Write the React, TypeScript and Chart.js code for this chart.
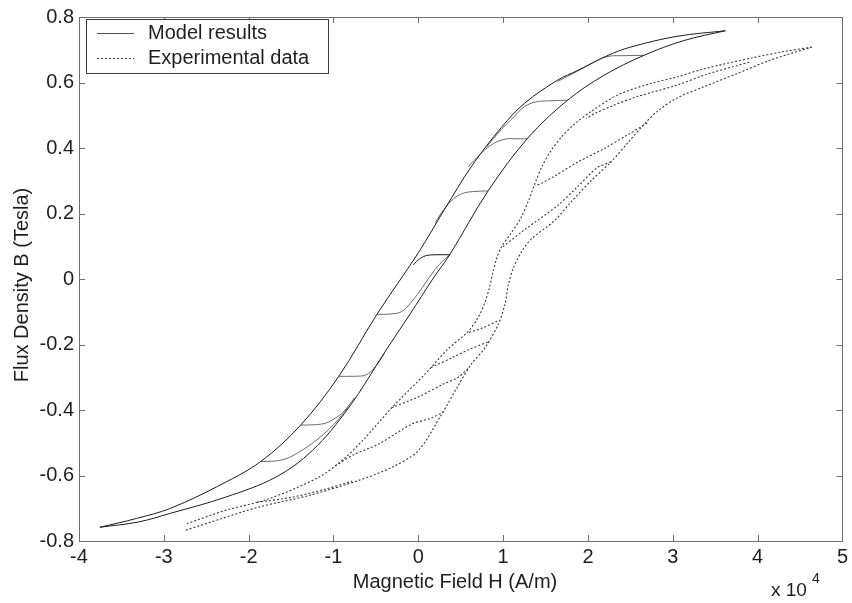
import React, { useEffect, useRef } from 'react';
import { Chart, registerables } from 'chart.js';

Chart.register(...registerables);

const FONT = '"Liberation Sans", Arial, Helvetica, sans-serif';

// Axis ticks (H in units of 1e4 A/m, B in Tesla)
const xTicks = [-4, -3, -2, -1, 0, 1, 2, 3, 4, 5];
const yTicks = [-0.8, -0.6, -0.4, -0.2, 0, 0.2, 0.4, 0.6, 0.8];

// ---- Model results (solid) ----
const modelUpper = [[3.62,0.758],[3.05,0.741],[2.5,0.708],[2.22,0.681],[1.88,0.637],[1.64,0.607],[1.25,0.536],[0.98,0.463],[0.63,0.345],[0.31,0.213],[0.0,0.08],[-0.488,-0.108],[-0.937,-0.297],[-1.387,-0.446],[-1.856,-0.557],[-2.38,-0.635],[-2.93,-0.701],[-3.32,-0.731],[-3.754,-0.758]];
const modelLower = [[-3.754,-0.758],[-3.3,-0.742],[-2.93,-0.716],[-2.27,-0.666],[-1.68,-0.605],[-1.25,-0.524],[-0.82,-0.393],[-0.39,-0.221],[-0.1,-0.108],[0.17,0.0],[0.37,0.074],[0.823,0.269],[1.29,0.43],[1.76,0.546],[2.19,0.622],[2.66,0.683],[3.13,0.728],[3.62,0.758]];
const modelD1 = [[2.66,0.683],[2.45,0.682],[2.22,0.679],[2.05,0.659],[1.88,0.635],[1.64,0.603]];
const modelA1 = [[-1.856,-0.557],[-1.7,-0.556],[-1.56,-0.549],[-1.41,-0.529],[-1.21,-0.494],[-1.0,-0.445],[-0.82,-0.39]];
const modelD2 = [[1.76,0.546],[1.55,0.544],[1.39,0.541],[1.25,0.526],[1.1,0.488],[0.98,0.457],[0.8,0.402]];
const modelA2 = [[-1.387,-0.446],[-1.22,-0.445],[-1.09,-0.44],[-0.98,-0.425],[-0.88,-0.405],[-0.75,-0.362]];
const modelD3 = [[1.29,0.428],[1.15,0.428],[1.02,0.427],[0.862,0.41],[0.705,0.375],[0.588,0.342]];
const modelA3 = [[-0.937,-0.297],[-0.75,-0.297],[-0.62,-0.293],[-0.52,-0.272],[-0.4,-0.228]];
const modelD4 = [[0.823,0.269],[0.65,0.267],[0.53,0.262],[0.42,0.246],[0.3,0.212],[0.2,0.172]];
const modelA4 = [[-0.488,-0.108],[-0.33,-0.107],[-0.2,-0.1],[-0.08,-0.07],[0.05,-0.025],[0.2,0.03],[0.3,0.058],[0.37,0.074]];
const modelD5 = [[0.37,0.074],[0.2,0.074],[0.1,0.072],[0.03,0.064],[-0.02,0.054],[-0.057,0.043]];

// ---- Experimental data (dotted) ----
const expUpper = [[4.637,0.708],[4.3,0.694],[3.95,0.676],[3.37,0.642],[3.05,0.617],[2.74,0.597],[2.35,0.562],[2.035,0.511],[1.84,0.473],[1.683,0.432],[1.56,0.39],[1.46,0.345],[1.38,0.295],[1.3,0.24],[1.2,0.182],[1.08,0.135],[0.98,0.098],[0.92,0.06],[0.875,0.015],[0.84,-0.025],[0.79,-0.068],[0.71,-0.115],[0.588,-0.16],[0.353,-0.213],[0.08,-0.29],[-0.312,-0.393],[-0.624,-0.484],[-0.859,-0.545],[-1.172,-0.605],[-1.759,-0.671],[-2.267,-0.706],[-2.74,-0.748]];
const expLower = [[-2.74,-0.767],[-2.3,-0.73],[-1.876,-0.696],[-1.29,-0.661],[-0.703,-0.615],[-0.312,-0.575],[0.0,-0.524],[0.275,-0.413],[0.46,-0.33],[0.62,-0.262],[0.784,-0.211],[0.94,-0.14],[1.019,-0.08],[1.06,-0.02],[1.116,0.031],[1.214,0.082],[1.331,0.122],[1.605,0.178],[1.8,0.235],[2.035,0.3],[2.27,0.357],[2.466,0.415],[2.661,0.472],[2.818,0.512],[3.052,0.553],[3.366,0.587],[3.756,0.627],[4.147,0.668],[4.637,0.708]];
const expD1 = [[3.9,0.662],[3.4,0.625],[3.05,0.592],[2.58,0.557],[2.3,0.53],[2.1,0.508],[1.98,0.49]];
const expD2 = [[2.7,0.476],[2.466,0.44],[2.19,0.398],[1.88,0.357],[1.605,0.314],[1.45,0.292],[1.38,0.285]];
const expD3 = [[2.27,0.357],[2.11,0.34],[1.87,0.28],[1.64,0.224],[1.25,0.15],[0.98,0.095]];
const expA0 = [[-1.9,-0.682],[-1.485,-0.666],[-1.1,-0.642],[-0.78,-0.617]];
const expA1 = [[-0.98,-0.57],[-0.75,-0.535],[-0.468,-0.504],[-0.077,-0.443],[0.15,-0.425],[0.3,-0.405]];
const expA2 = [[-0.312,-0.393],[0.0,-0.36],[0.3,-0.32],[0.47,-0.3],[0.6,-0.27]];
const expA3 = [[0.15,-0.27],[0.4,-0.24],[0.6,-0.215],[0.84,-0.19]];
const expA4 = [[0.6,-0.163],[0.75,-0.15],[0.94,-0.128]];

const toPts = (a: number[][]) => a.map(([x, y]) => ({ x, y }));

const MODEL_MAJOR = '#1c1c1c';
const MODEL_MINOR = '#6a6a6a';
const EXP_COLOR = '#3a3a3a';

const modelLine = (data: number[][], color: string) => ({
  data: toPts(data),
  borderColor: color,
  borderWidth: 1,
  pointRadius: 0,
  showLine: true,
  tension: 0.35,
  fill: false,
});
const expLine = (data: number[][]) => ({
  data: toPts(data),
  borderColor: EXP_COLOR,
  borderWidth: 1.1,
  borderDash: [2, 2],
  pointRadius: 0,
  showLine: true,
  tension: 0.3,
  fill: false,
});

const framePlugin = {
  id: 'frame',
  afterDatasetsDraw(chart: any) {
    const { ctx, chartArea: a, scales } = chart;
    const xs = scales.x, ys = scales.y;
    ctx.save();
    ctx.strokeStyle = '#6e6e6e';
    ctx.lineWidth = 1;
    ctx.strokeRect(Math.round(a.left) + 0.5, Math.round(a.top) + 0.5, Math.round(a.right - a.left), Math.round(a.bottom - a.top));
    const TL = 6;
    ctx.beginPath();
    xTicks.forEach((v) => {
      const px = Math.round(xs.getPixelForValue(v)) + 0.5;
      ctx.moveTo(px, a.bottom); ctx.lineTo(px, a.bottom - TL);
      ctx.moveTo(px, a.top); ctx.lineTo(px, a.top + TL);
    });
    yTicks.forEach((v) => {
      const py = Math.round(ys.getPixelForValue(v)) + 0.5;
      ctx.moveTo(a.left, py); ctx.lineTo(a.left + TL, py);
      ctx.moveTo(a.right, py); ctx.lineTo(a.right - TL, py);
    });
    ctx.stroke();

    // Axis titles
    ctx.fillStyle = '#1e1e1e';
    ctx.font = `20px ${FONT}`;
    ctx.textAlign = 'center';
    ctx.textBaseline = 'middle';
    ctx.fillText('Magnetic Field H (A/m)', 455, 582);
    ctx.save();
    ctx.translate(22, 285);
    ctx.rotate(-Math.PI / 2);
    ctx.fillText('Flux Density B (Tesla)', 0, 0);
    ctx.restore();
    // Exponent
    ctx.textAlign = 'left';
    ctx.font = `19px ${FONT}`;
    ctx.fillText('x 10', 771, 591);
    ctx.font = `14px ${FONT}`;
    ctx.fillText('4', 812, 579);

    // Legend
    const lx = 86.5, ly = 19.5, lw = 242, lh = 54;
    ctx.fillStyle = '#ffffff';
    ctx.fillRect(lx, ly, lw, lh);
    ctx.strokeStyle = '#3a3a3a';
    ctx.strokeRect(lx, ly, lw, lh);
    ctx.lineWidth = 1;
    ctx.strokeStyle = '#555555';
    ctx.beginPath(); ctx.moveTo(97, 33.5); ctx.lineTo(134, 33.5); ctx.stroke();
    ctx.setLineDash([2, 2]);
    ctx.strokeStyle = EXP_COLOR;
    ctx.beginPath(); ctx.moveTo(97, 58.5); ctx.lineTo(134, 58.5); ctx.stroke();
    ctx.setLineDash([]);
    ctx.fillStyle = '#1e1e1e';
    ctx.font = `20px ${FONT}`;
    ctx.textBaseline = 'middle';
    ctx.fillText('Model results', 148, 33);
    ctx.fillText('Experimental data', 148, 58);
    ctx.restore();
  },
};

export default function App() {
  const ref = useRef<HTMLCanvasElement | null>(null);
  useEffect(() => {
    if (!ref.current) return;
    const datasets: any[] = [
      modelLine(modelUpper, MODEL_MAJOR),
      modelLine(modelLower, MODEL_MAJOR),
      modelLine(modelD1, MODEL_MINOR),
      modelLine(modelA1, MODEL_MINOR),
      modelLine(modelD2, MODEL_MINOR),
      modelLine(modelA2, MODEL_MINOR),
      modelLine(modelD3, MODEL_MINOR),
      modelLine(modelA3, MODEL_MINOR),
      modelLine(modelD4, MODEL_MINOR),
      modelLine(modelA4, MODEL_MINOR),
      modelLine(modelD5, MODEL_MAJOR),
      expLine(expUpper),
      expLine(expLower),
      expLine(expD1),
      expLine(expD2),
      expLine(expD3),
      expLine(expA0),
      expLine(expA1),
      expLine(expA2),
      expLine(expA3),
      expLine(expA4),
    ];
    const chart = new Chart(ref.current, {
      type: 'scatter',
      data: { datasets },
      plugins: [framePlugin],
      options: {
        responsive: false,
        animation: false,
        layout: { padding: { top: 13, right: 6, left: 0, bottom: 0 } },
        plugins: { legend: { display: false }, tooltip: { enabled: false } },
        scales: {
          x: {
            type: 'linear',
            min: -4,
            max: 5,
            afterBuildTicks: (s: any) => { s.ticks = xTicks.map((v) => ({ value: v })); },
            afterFit: (s: any) => { s.height = 62; },
            grid: { display: false, drawTicks: false },
            border: { display: false },
            ticks: {
              padding: 4,
              color: '#1e1e1e',
              font: { family: FONT, size: 20 },
              callback: (v: any) => String(Math.round(Number(v))),
            },
          },
          y: {
            type: 'linear',
            min: -0.8,
            max: 0.8,
            afterBuildTicks: (s: any) => { s.ticks = yTicks.map((v) => ({ value: v })); },
            afterFit: (s: any) => { s.width = 79; },
            grid: { display: false, drawTicks: false },
            border: { display: false },
            ticks: {
              padding: 5,
              color: '#1e1e1e',
              font: { family: FONT, size: 20 },
              callback: (v: any) => String(Number(Number(v).toFixed(1))),
            },
          },
        },
      },
    });
    return () => chart.destroy();
  }, []);
  return (
    <div style={{ position: 'absolute', left: 0, top: 0, width: 852, height: 603, background: '#fff' }}>
      <canvas ref={ref} width={852} height={603} style={{ width: 852, height: 603 }} />
    </div>
  );
}
